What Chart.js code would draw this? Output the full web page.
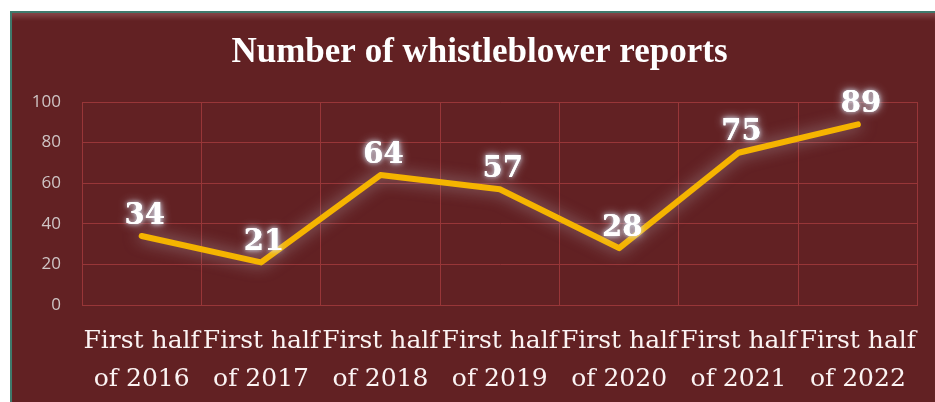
<!DOCTYPE html>
<html>
<head>
<meta charset="utf-8">
<script src="https://cdn.jsdelivr.net/npm/chart.js"></script>
<style>
  html, body { margin: 0; padding: 0; background: #fff; }
  #frame {
    position: absolute; left: 10px; top: 11px; width: 923px; height: 391px;
    background: #622123;
    border-left: 2px solid #3f7a6c;
    border-top: 2px solid #3f7a6c;
    box-shadow: inset 0 7px 5px -3px rgba(255, 200, 200, 0.22);
  }
  #chart { display: block; }
</style>
</head>
<body>
<div id="frame"><canvas id="chart" width="923" height="389"></canvas></div>
<script>
    const categories = [
        ['First half', 'of 2016'],
        ['First half', 'of 2017'],
        ['First half', 'of 2018'],
        ['First half', 'of 2019'],
        ['First half', 'of 2020'],
        ['First half', 'of 2021'],
        ['First half', 'of 2022']
    ];
    const reports = [34, 21, 64, 57, 28, 75, 89];
    const yTicks = [0, 20, 40, 60, 80, 100];

    const gridColor = '#983638';

    // glow under the line
    const lineGlow = {
        id: 'lineGlow',
        beforeDatasetDraw(chart) {
            const ctx = chart.ctx;
            ctx.save();
            ctx.shadowColor = 'rgba(200, 205, 215, 0.6)';
            ctx.shadowBlur = 16;
        },
        afterDatasetDraw(chart) {
            chart.ctx.restore();
        }
    };

    // the title in the original sits a bit right of the canvas centre
    const titleShift = {
        id: 'titleShift',
        afterLayout(chart) {
            if (chart.titleBlock) chart.titleBlock.left += 25;
        }
    };

    // value labels above points, white with soft halo
    const valueLabels = {
        id: 'valueLabels',
        afterDatasetsDraw(chart) {
            const ctx = chart.ctx;
            const meta = chart.getDatasetMeta(0);
            ctx.save();
            ctx.font = 'bold 29px "DejaVu Serif", "Liberation Serif", serif';
            ctx.textAlign = 'center';
            ctx.textBaseline = 'middle';
            meta.data.forEach((pt, i) => {
                const x = pt.x + 3;
                const y = pt.y - 20;
                ctx.shadowColor = 'rgba(215, 225, 240, 0.9)';
                ctx.shadowBlur = 10;
                ctx.fillStyle = '#ffffff';
                ctx.fillText(String(reports[i]), x, y);
                ctx.shadowBlur = 4;
                ctx.fillText(String(reports[i]), x, y);
            });
            ctx.restore();
        }
    };

    new Chart(document.getElementById('chart').getContext('2d'), {
        type: 'line',
        data: {
            labels: categories,
            datasets: [{
                data: reports,
                borderColor: '#f5b400',
                borderWidth: 6,
                borderCapStyle: 'round',
                borderJoinStyle: 'round',
                pointRadius: 0,
                tension: 0,
                fill: false
            }]
        },
        plugins: [lineGlow, titleShift, valueLabels],
        options: {
            responsive: false,
            animation: false,
            layout: { padding: { left: 0, right: 13, top: 0, bottom: 0 } },
            plugins: {
                legend: { display: false },
                tooltip: { enabled: false },
                title: {
                    display: true,
                    text: 'Number of whistleblower reports',
                    color: '#ffffff',
                    font: { family: '"Liberation Serif", "DejaVu Serif", serif', size: 35, weight: 'bold', lineHeight: 1.2 },
                    padding: { top: 19, bottom: 28 }
                }
            },
            scales: {
                x: {
                    offset: true,
                    grid: { color: gridColor, offset: true, drawTicks: false },
                    border: { color: gridColor },
                    ticks: {
                        color: '#fbf3f3',
                        maxRotation: 0,
                        autoSkip: false,
                        padding: 18,
                        font: { family: '"DejaVu Serif", "Liberation Serif", serif', size: 25, lineHeight: 1.5 }
                    },
                    afterFit(scale) { scale.height = 97; }
                },
                y: {
                    min: 0,
                    max: 100,
                    afterBuildTicks(scale) { scale.ticks = yTicks.map(v => ({ value: v })); },
                    grid: { color: gridColor, drawTicks: false },
                    border: { color: gridColor },
                    ticks: {
                        color: '#cfc5c5',
                        padding: 21,
                        font: { family: '"Open Sans", "Liberation Sans", sans-serif', size: 17 }
                    },
                    afterFit(scale) { scale.width = 70; }
                }
            }
        }
    });
</script>
</body>
</html>
